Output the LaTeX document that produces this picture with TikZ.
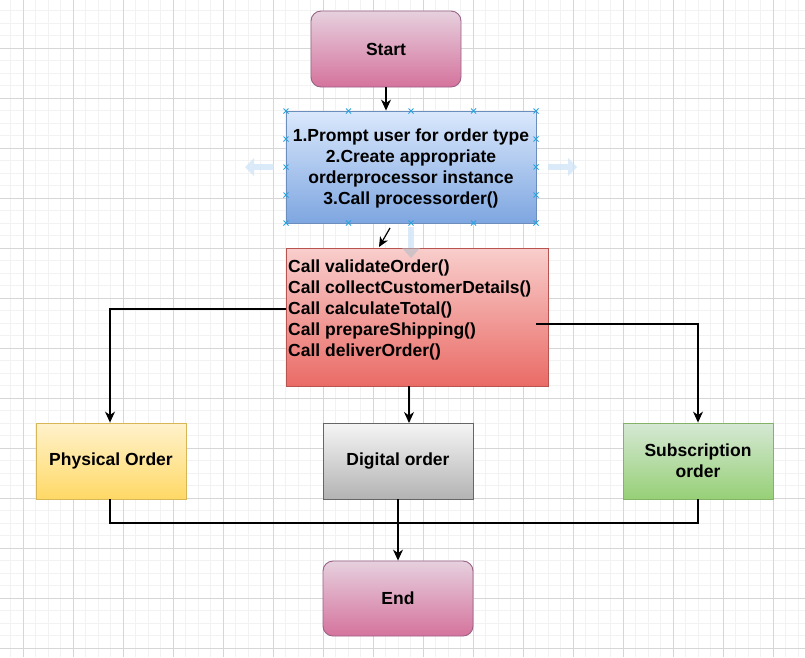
\documentclass[tikz,border=0pt]{standalone}
\usepackage{fontspec}
\setmainfont{Liberation Sans}
\usetikzlibrary{arrows.meta,calc}
\definecolor{gridminor}{RGB}{242,242,242}
\definecolor{gridmajor}{RGB}{214,214,214}
\definecolor{pinkT}{HTML}{E6D0DE}\definecolor{pinkB}{HTML}{D5739D}\definecolor{pinkD}{HTML}{996185}
\definecolor{blueT}{HTML}{DAE8FC}\definecolor{blueB}{HTML}{7EA6E0}\definecolor{blueD}{HTML}{6C8EBF}
\definecolor{redT}{HTML}{F8CECC}\definecolor{redB}{HTML}{EA6B66}\definecolor{redD}{HTML}{B85450}
\definecolor{yelT}{HTML}{FFF2CC}\definecolor{yelB}{HTML}{FFD966}\definecolor{yelD}{HTML}{D6B656}
\definecolor{grayT}{HTML}{F5F5F5}\definecolor{grayB}{HTML}{B3B3B3}\definecolor{grayD}{HTML}{666666}
\definecolor{grnT}{HTML}{D5E8D4}\definecolor{grnB}{HTML}{97D077}\definecolor{grnD}{HTML}{82B366}
\definecolor{handle}{HTML}{29A3E0}
\definecolor{hover}{HTML}{CFE4F7}
\tikzset{
  txt/.style={font=\fontsize{17.5}{21}\selectfont\bfseries},
  box/.style={draw, line width=0.9pt, minimum width=150pt, minimum height=76pt, inner sep=2pt,
    txt, align=center, shading=axis, shading angle=0},
  pinkbox/.style={box, rounded corners=10pt, top color=pinkT, bottom color=pinkB, draw=pinkD},
  bluebox/.style={box, top color=blueT, bottom color=blueB, draw=blueD},
  redbox/.style={box, top color=redT, bottom color=redB, draw=redD},
  yelbox/.style={box, top color=yelT, bottom color=yelB, draw=yelD},
  graybox/.style={box, top color=grayT, bottom color=grayB, draw=grayD},
  grnbox/.style={box, top color=grnT, bottom color=grnB, draw=grnD},
  conn/.style={draw=black, line width=1.2pt},
  arr/.style={conn, -{Stealth[length=11pt,width=10pt,inset=3.5pt]}},
  hnd/.style={draw=handle, line width=0.9pt},
  hov/.style={fill=hover, draw=none, opacity=0.75},
}
\begin{document}
\begin{tikzpicture}[x=1pt,y=-1pt]
\useasboundingbox (0,0) rectangle (805,657);
\fill[white] (0,0) rectangle (805,657);
% grid
\foreach \k in {0,...,64} {\pgfmathsetmacro\g{10.5+12.5*\k}
  \draw[gridminor, line width=0.8pt] (\g,0) -- (\g,657);}
\foreach \k in {0,...,52} {\pgfmathsetmacro\g{10.5+12.5*\k}
  \draw[gridminor, line width=0.8pt] (0,\g) -- (805,\g);}
\foreach \k in {0,...,15} {\pgfmathsetmacro\g{23+50*\k}
  \draw[gridmajor, line width=0.8pt] (\g,0) -- (\g,657);}
\foreach \k in {0,...,13} {\pgfmathsetmacro\g{-2+50*\k}
  \draw[gridmajor, line width=0.8pt] (0,\g) -- (805,\g);}

% nodes
\node[pinkbox] (start) at (386,49) {Start};
\node[bluebox, minimum width=250pt, minimum height=112pt] (proc) at (411,167) {};
\node[txt, align=center, inner sep=0pt] (proctxt) at (411,168)
  {1.Prompt user for order type\\2.Create appropriate\\orderprocessor instance\\3.Call processorder()};
\node[redbox, minimum width=262pt, minimum height=138pt] (calls) at (417,317) {};
\node[txt, align=left, inner sep=0pt, anchor=west] (callstxt) at (288,309.6)
  {Call validateOrder()\\Call collectCustomerDetails()\\Call calculateTotal()\\Call prepareShipping()\\Call deliverOrder()};
\node[yelbox] (phys) at (111,461) {Physical Order};
\node[graybox] (dig) at (398,461) {Digital order};
\node[grnbox] (sub) at (698,461) {Subscription\\order};
\node[pinkbox, minimum height=75pt] (end) at (398,598.5) {End};

% hover arrows (editor overlay)
\fill[hov] (254,164) rectangle (274,170);
\fill[hov] (254,158) -- (245,167) -- (254,176) -- cycle;
\fill[hov] (548,164) rectangle (568,170);
\fill[hov] (568,158) -- (577,167) -- (568,176) -- cycle;
\fill[hov] (408,227) rectangle (414,248);
\fill[hover!60!gray, opacity=0.55] (402,248) -- (411,258) -- (420,248) -- cycle;

% selection handles
\foreach \hx in {286,348.5,411,473.5,536} {
  \foreach \hy in {111,223} {
    \draw[hnd] (\hx-2.5,\hy-2.5) -- (\hx+2.5,\hy+2.5) (\hx-2.5,\hy+2.5) -- (\hx+2.5,\hy-2.5);}}
\foreach \hy in {139,167,195} {
  \foreach \hx in {286,536} {
    \draw[hnd] (\hx-2.5,\hy-2.5) -- (\hx+2.5,\hy+2.5) (\hx-2.5,\hy+2.5) -- (\hx+2.5,\hy-2.5);}}

% connectors
\coordinate (dA) at (390,228);
\coordinate (dB) at (379,247);
\coordinate (lS) at (286,309);
\coordinate (rS) at (536,324);
\coordinate (bS) at (409,386);
\coordinate (bE) at (409,423);
\coordinate (mj) at (398,523);
\draw[arr] (start.south) -- (start.south |- proc.north);
\draw[conn, -{Stealth[length=10pt,width=9pt,inset=3pt]}] (dA) -- (dB);
\draw[arr] (lS) -| ($(phys.north)+(-1,0)$);
\draw[arr] (rS) -| (sub.north);
\draw[arr] (bS) -- (bE);
\draw[conn] ($(phys.south)+(-1,0)$) |- (mj) -| (sub.south);
\draw[arr] (dig.south) -- (end.north);
\end{tikzpicture}
\end{document}
